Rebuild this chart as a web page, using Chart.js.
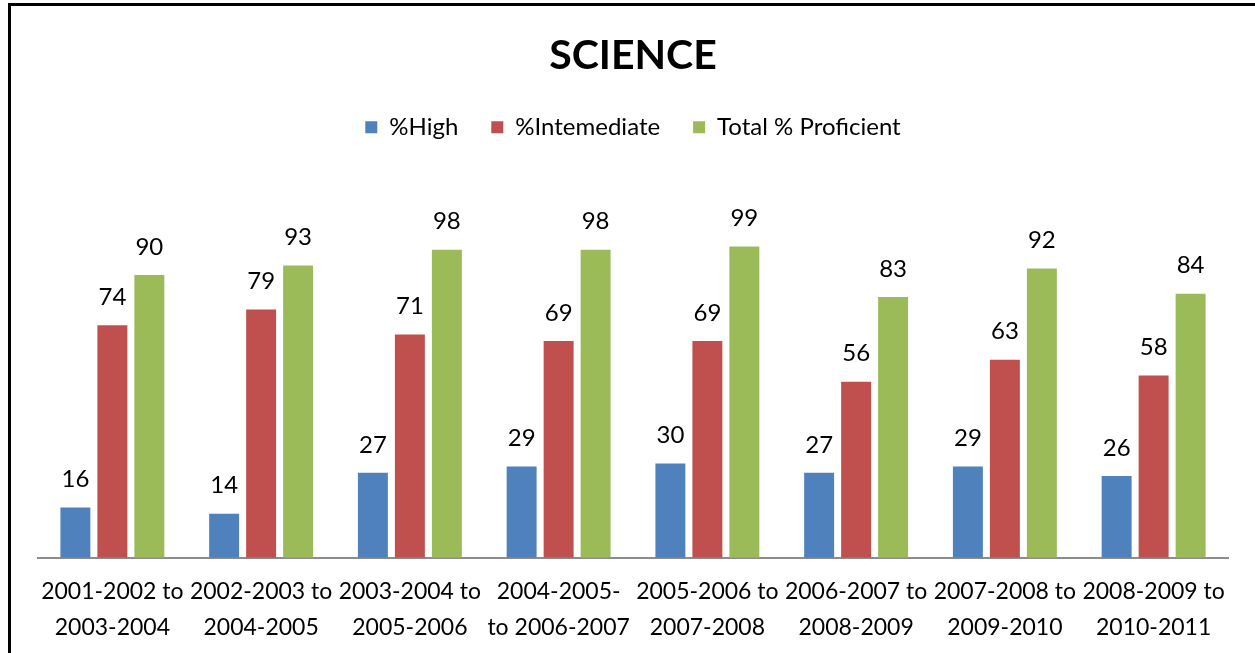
<!DOCTYPE html>
<html lang="en">
<head>
    <meta charset="UTF-8">
    <title>SCIENCE</title>
    <style>
        body {
            margin: 0;
            background-color: white;
            overflow: hidden;
        }
        .frame {
            position: absolute;
            left: 8px;
            top: 3px;
            width: 1250px;
            height: 660px;
            border-left: 3px solid black;
            border-top: 3px solid black;
        }
        .chart-box {
            position: relative;
            width: 1244px;
            height: 647px;
        }
    </style>
</head>
<body>
<div class="frame">
    <div class="chart-box">
        <canvas id="scienceChart"></canvas>
    </div>
</div>

<script src="https://cdn.jsdelivr.net/npm/chart.js"></script>
<script>
    const categories = [
        ['2001-2002 to', '2003-2004'],
        ['2002-2003 to', '2004-2005'],
        ['2003-2004 to', '2005-2006'],
        ['2004-2005-', 'to 2006-2007'],
        ['2005-2006 to', '2007-2008'],
        ['2006-2007 to', '2008-2009'],
        ['2007-2008 to', '2009-2010'],
        ['2008-2009 to', '2010-2011']
    ];
    const highValues = [16, 14, 27, 29, 30, 27, 29, 26];
    const intermediateValues = [74, 79, 71, 69, 69, 56, 63, 58];
    const proficientValues = [90, 93, 98, 98, 99, 83, 92, 84];

    const fontName = 'Lato, "Open Sans", sans-serif';

    // dessine la valeur au-dessus de chaque barre
    const valueLabels = {
        id: 'valueLabels',
        afterDatasetsDraw(chart) {
            const ctx = chart.ctx;
            ctx.save();
            ctx.font = '24px ' + fontName;
            ctx.fillStyle = '#000';
            ctx.textAlign = 'center';
            ctx.textBaseline = 'middle';
            chart.data.datasets.forEach((ds, i) => {
                chart.getDatasetMeta(i).data.forEach((bar, j) => {
                    ctx.fillText(ds.data[j], bar.x, bar.y - 28);
                });
            });
            ctx.restore();
        }
    };

    new Chart(document.getElementById('scienceChart'), {
        type: 'bar',
        data: {
            labels: categories,
            datasets: [
                { label: '%High', data: highValues, backgroundColor: '#4F81BD' },
                { label: '%Intemediate', data: intermediateValues, backgroundColor: '#C0504D' },
                { label: 'Total % Proficient', data: proficientValues, backgroundColor: '#9BBB59' }
            ]
        },
        options: {
            responsive: true,
            maintainAspectRatio: false,
            animation: false,
            layout: { padding: { left: 27, right: 27, top: 0, bottom: 0 } },
            datasets: {
                bar: { categoryPercentage: 0.746, barPercentage: 0.81 }
            },
            plugins: {
                title: {
                    display: true,
                    text: 'SCIENCE',
                    color: '#000',
                    font: { family: fontName, size: 41, weight: 'bold' },
                    padding: { top: 25, bottom: 2 }
                },
                legend: {
                    position: 'top',
                    labels: {
                        color: '#000',
                        font: { family: fontName, size: 24 },
                        boxWidth: 12,
                        boxHeight: 12,
                        padding: 33
                    }
                },
                tooltip: { enabled: false }
            },
            scales: {
                x: {
                    grid: { display: false },
                    border: { color: '#8C8C8C', width: 2 },
                    ticks: {
                        color: '#000',
                        font: { family: fontName, size: 23, lineHeight: 1.55 },
                        padding: 8,
                        maxRotation: 0,
                        autoSkip: false
                    }
                },
                y: {
                    display: false,
                    min: 0,
                    max: 130
                }
            }
        },
        plugins: [valueLabels]
    });
</script>
</body>
</html>
